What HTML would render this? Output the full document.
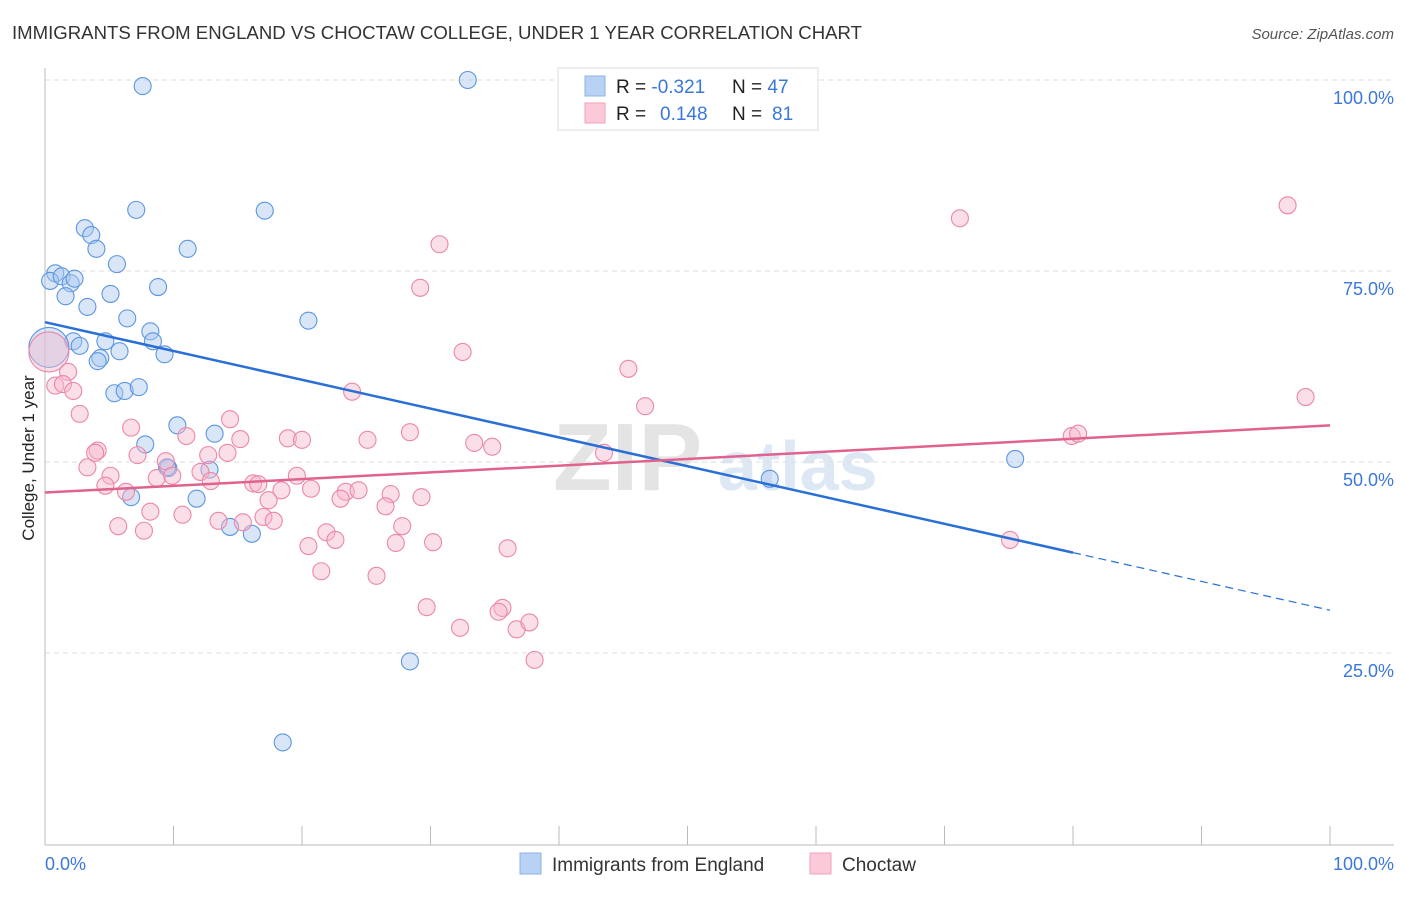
<!DOCTYPE html>
<html><head><meta charset="utf-8"><style>
body{margin:0;background:#fff;font-family:"Liberation Sans",sans-serif;}
svg text{font-family:"Liberation Sans",sans-serif;}
</style></head><body>
<svg id="chart" width="1406" height="892" xmlns="http://www.w3.org/2000/svg">
<text x="12" y="39" font-size="18" fill="#333" textLength="850" lengthAdjust="spacingAndGlyphs">IMMIGRANTS FROM ENGLAND VS CHOCTAW COLLEGE, UNDER 1 YEAR CORRELATION CHART</text>
<text x="1394" y="39" font-size="15" fill="#555" font-style="italic" text-anchor="end">Source: ZipAtlas.com</text>
<text x="553" y="490" font-size="96" fill="#e4e4e4" font-family="Liberation Serif" font-weight="bold">ZIP</text>
<text x="718" y="490" font-size="70" fill="#dde8f4" font-weight="bold">atlas</text>
<g id="grid"></g>
<line x1="45" y1="68" x2="45" y2="845" stroke="#bbb"/>
<line x1="45" y1="845" x2="1394" y2="845" stroke="#bbb"/>
<g id="xticks"></g>
<text transform="translate(34,458) rotate(-90)" font-size="17" fill="#222" text-anchor="middle">College, Under 1 year</text>
<text x="45" y="870" font-size="18" fill="#3b78d8">0.0%</text>
<text x="1394" y="870" font-size="18" fill="#3b78d8" text-anchor="end">100.0%</text>
<g id="points"></g>
<g id="trends"></g>
<g>
<rect x="558" y="68" width="260" height="62" fill="#fff" stroke="#ddd"/>
<rect x="585" y="76" width="20" height="20" fill="#b9d2f3" stroke="#8db3e8"/>
<rect x="585" y="103" width="20" height="20" fill="#fbc9d8" stroke="#f0a3bb"/>
<text x="616" y="93" font-size="19" fill="#222">R = <tspan fill="#3b78d8">-0.321</tspan></text>
<text x="732" y="93" font-size="19" fill="#222">N = <tspan fill="#3b78d8">47</tspan></text>
<text x="616" y="120" font-size="19" fill="#222">R = <tspan fill="#3b78d8" x="660">0.148</tspan></text>
<text x="732" y="120" font-size="19" fill="#222">N = <tspan fill="#3b78d8" x="772">81</tspan></text>
</g>
<g>
<rect x="520" y="853" width="21" height="21" fill="#b9d2f3" stroke="#8db3e8"/>
<text x="552" y="871" font-size="19" fill="#333">Immigrants from England</text>
</g>
<g>
<rect x="810" y="853" width="21" height="21" fill="#fbc9d8" stroke="#f0a3bb"/>
<text x="842" y="871" font-size="19" fill="#333">Choctaw</text>
</g>
</svg>
<script>
const yTicks=[25,50,75,100];
const blueX=[7.6,32.9,7.1,17.1,3.1,3.6,4,11.1,5.6,0.8,0.4,1.3,2,2.3,1.6,5.1,8.8,3.3,6.4,20.5,8.2,8.4,2.2,2.7,4.7,5.8,9.3,4.3,4.1,5.4,6.2,7.3,7.8,10.3,13.2,12.8,9.6,11.8,6.7,14.4,16.1,28.4,18.5,56.4,75.5,0.3,9.5];
const blueY=[99.2,100,83,82.9,80.6,79.7,77.9,77.9,75.9,74.7,73.7,74.3,73.4,74,71.7,72,72.9,70.3,68.8,68.5,67.1,65.8,65.8,65.2,65.8,64.5,64.1,63.6,63.2,59,59.3,59.8,52.3,54.8,53.7,49,49.2,45.2,45.4,41.5,40.6,23.9,13.3,47.8,50.4,65,49.3];
const pinkX=[0.3,1.8,0.8,1.4,2.2,2.7,6.7,11,14.4,15.2,14.2,12.7,18.9,20,25.1,28.4,33.4,34.8,23.9,32.5,29.2,30.7,45.4,46.7,43.5,71.2,96.7,98.1,79.9,80.4,75.1,3.3,4.1,3.9,5.1,4.7,6.3,7.2,8.7,9.4,9.9,12.1,12.9,16.2,16.6,17.4,18.4,19.6,20.7,23.4,24.4,23.0,26.9,26.5,29.3,5.7,7.7,8.2,10.7,13.5,15.4,17.0,17.8,21.9,22.6,27.8,20.5,27.3,30.2,36.0,21.5,25.8,29.7,35.6,32.3,36.7,37.7,38.1,35.3];
const pinkY=[64.4,61.8,60,60.2,59.3,56.3,54.5,53.4,55.6,53,51.2,50.9,53.1,52.9,52.9,53.9,52.5,52,59.2,64.4,72.8,78.5,62.2,57.3,51.2,81.9,83.6,58.5,53.4,53.7,39.8,49.3,51.5,51.2,48.2,46.9,46.1,50.9,47.9,50.1,48.2,48.7,47.5,47.2,47.1,45,46.3,48.2,46.5,46.1,46.3,45.2,45.8,44.2,45.4,41.6,41,43.5,43.1,42.3,42.1,42.8,42.3,40.8,39.8,41.6,39,39.4,39.5,38.7,35.7,35.1,31,30.9,28.3,28.1,29,24.1,30.4];
const blueTrend=[68.3,30.6];
const pinkTrend=[46,54.8];
const blueSolidEnd=80;

const X0=45,X1=1330,Y0=844,PXY=7.64;
const sx=v=>X0+(X1-X0)*v/100;
const sy=v=>Y0-PXY*v;
const NS="http://www.w3.org/2000/svg";
function mk(tag,attrs,parent){const e=document.createElementNS(NS,tag);for(const k in attrs)e.setAttribute(k,attrs[k]);parent.appendChild(e);return e;}
const grid=document.getElementById('grid');
yTicks.forEach(t=>{
  const l=mk('line',{x1:45,x2:1394,y1:sy(t),y2:sy(t),stroke:'#ddd','stroke-dasharray':'5,4'},grid);
  
  
  const tx=mk('text',{x:1394,y:sy(t)+24,'font-size':18,fill:'#3b78d8','text-anchor':'end'},grid);
  tx.textContent=t.toFixed(1)+'%';
  
  
});
const xt=document.getElementById('xticks');
for(let i=1;i<=10;i++){
  const l=mk('line',{x1:sx(i*10),x2:sx(i*10),y1:826,y2:845,stroke:'#bbb'},xt);
  
  
}
const pts=document.getElementById('points');
function dots(xs,ys,fill,stroke,name){
  xs.forEach((x,i)=>{
    const big=(x<0.5&&ys[i]>63&&ys[i]<66);
    const c=mk('circle',{cx:sx(x),cy:sy(ys[i]),r:big?20:8.5,fill:fill,'fill-opacity':0.45,stroke:stroke,'stroke-width':1.1},pts);
    
    
  });
}
dots(blueX,blueY,'#a9c8f0','#5d96e0','england-point');
dots(pinkX,pinkY,'#f7b8cc','#eb87a7','choctaw-point');
const tr=document.getElementById('trends');
const by=x=>blueTrend[0]+(blueTrend[1]-blueTrend[0])*x/100;
const py=x=>pinkTrend[0]+(pinkTrend[1]-pinkTrend[0])*x/100;
let l=mk('line',{x1:sx(0),y1:sy(by(0)),x2:sx(blueSolidEnd),y2:sy(by(blueSolidEnd)),stroke:'#2a6fd6','stroke-width':2.5},tr);


l=mk('line',{x1:sx(blueSolidEnd),y1:sy(by(blueSolidEnd)),x2:sx(100),y2:sy(by(100)),stroke:'#2a6fd6','stroke-width':1.2,'stroke-dasharray':'8,5'},tr);


l=mk('line',{x1:sx(0),y1:sy(py(0)),x2:sx(100),y2:sy(py(100)),stroke:'#e0628e','stroke-width':2.5},tr);


</script>
</body></html>
